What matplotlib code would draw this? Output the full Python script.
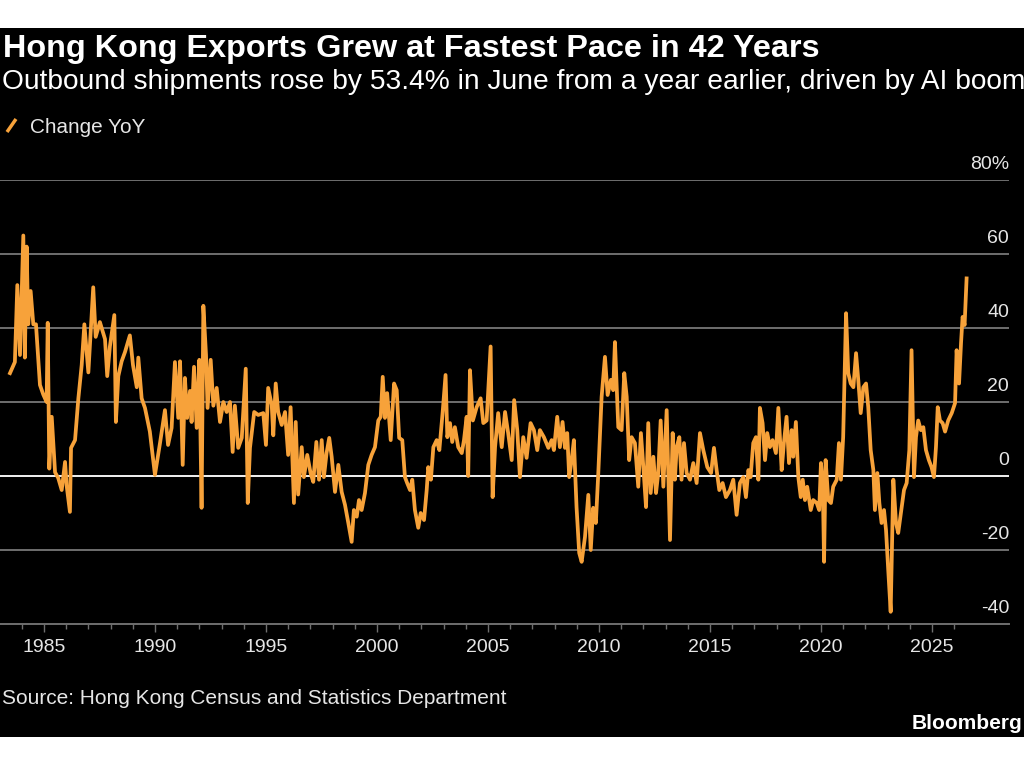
import matplotlib
matplotlib.use('Agg')
import matplotlib.pyplot as plt
import matplotlib.transforms as mtransforms
from matplotlib import font_manager
from matplotlib.lines import Line2D
from matplotlib.patches import Rectangle

# month positions as decimal years (% change YoY)
dates = [
    1983.47, 1983.69, 1983.80, 1983.92, 1984.07, 1984.14, 1984.22, 1984.29, 1984.40, 1984.52,
    1984.64, 1984.82, 1984.97, 1985.12, 1985.17, 1985.24, 1985.35, 1985.42, 1985.50, 1985.64,
    1985.80, 1985.95, 1986.02, 1986.17, 1986.22, 1986.40, 1986.55, 1986.70, 1986.82, 1987.00,
    1987.07, 1987.22, 1987.33, 1987.52, 1987.75, 1987.85, 1987.97, 1988.17, 1988.24, 1988.35,
    1988.50, 1988.65, 1988.87, 1989.01, 1989.18, 1989.25, 1989.40, 1989.55, 1989.77, 1990.00,
    1990.23, 1990.45, 1990.59, 1990.75, 1990.90, 1991.05, 1991.13, 1991.25, 1991.35, 1991.45,
    1991.58, 1991.65, 1991.76, 1991.88, 1992.00, 1992.10, 1992.18, 1992.30, 1992.37, 1992.51,
    1992.63, 1992.78, 1992.93, 1993.08, 1993.23, 1993.38, 1993.50, 1993.60, 1993.75, 1993.91,
    1994.09, 1994.18, 1994.28, 1994.47, 1994.65, 1994.88, 1995.00, 1995.10, 1995.26, 1995.33,
    1995.44, 1995.55, 1995.71, 1995.86, 1996.00, 1996.11, 1996.26, 1996.34, 1996.45, 1996.61,
    1996.71, 1996.86, 1997.01, 1997.13, 1997.27, 1997.39, 1997.51, 1997.61, 1997.73, 1997.85,
    1997.96, 1998.11, 1998.26, 1998.41, 1998.56, 1998.71, 1998.86, 1998.96, 1999.09, 1999.19,
    1999.31, 1999.46, 1999.61, 1999.76, 1999.91, 2000.06, 2000.17, 2000.26, 2000.36, 2000.46,
    2000.62, 2000.77, 2000.89, 2001.00, 2001.14, 2001.26, 2001.36, 2001.49, 2001.59, 2001.71,
    2001.86, 2001.97, 2002.12, 2002.24, 2002.31, 2002.43, 2002.54, 2002.69, 2002.81, 2002.96,
    2003.09, 2003.17, 2003.29, 2003.39, 2003.51, 2003.66, 2003.82, 2003.92, 2004.04, 2004.11,
    2004.19, 2004.32, 2004.49, 2004.67, 2004.79, 2004.94, 2005.12, 2005.21, 2005.32, 2005.46,
    2005.62, 2005.77, 2005.91, 2006.07, 2006.18, 2006.32, 2006.44, 2006.59, 2006.74, 2006.92,
    2007.07, 2007.22, 2007.34, 2007.52, 2007.72, 2007.87, 2007.97, 2008.12, 2008.24, 2008.36,
    2008.47, 2008.57, 2008.66, 2008.77, 2008.87, 2008.99, 2009.11, 2009.22, 2009.37, 2009.52,
    2009.63, 2009.74, 2009.86, 2009.97, 2010.12, 2010.27, 2010.39, 2010.54, 2010.64, 2010.72,
    2010.87, 2011.02, 2011.14, 2011.25, 2011.36, 2011.47, 2011.62, 2011.77, 2011.89, 2012.00,
    2012.12, 2012.22, 2012.33, 2012.45, 2012.57, 2012.67, 2012.78, 2012.90, 2013.05, 2013.20,
    2013.32, 2013.42, 2013.50, 2013.62, 2013.72, 2013.83, 2013.95, 2014.10, 2014.25, 2014.40,
    2014.55, 2014.70, 2014.88, 2015.05, 2015.18, 2015.30, 2015.42, 2015.57, 2015.72, 2015.90,
    2016.05, 2016.20, 2016.35, 2016.50, 2016.62, 2016.73, 2016.83, 2016.95, 2017.07, 2017.18,
    2017.25, 2017.37, 2017.48, 2017.58, 2017.70, 2017.82, 2017.97, 2018.08, 2018.23, 2018.33,
    2018.45, 2018.56, 2018.68, 2018.75, 2018.87, 2018.98, 2019.09, 2019.18, 2019.28, 2019.38,
    2019.54, 2019.65, 2019.81, 2019.92, 2020.00, 2020.08, 2020.14, 2020.21, 2020.33, 2020.45,
    2020.55, 2020.71, 2020.81, 2020.90, 2021.00, 2021.13, 2021.23, 2021.34, 2021.46, 2021.58,
    2021.68, 2021.79, 2021.91, 2022.03, 2022.13, 2022.24, 2022.36, 2022.43, 2022.54, 2022.63,
    2022.73, 2022.84, 2022.93, 2023.03, 2023.14, 2023.26, 2023.38, 2023.48, 2023.60, 2023.74,
    2023.86, 2023.98, 2024.08, 2024.19, 2024.28, 2024.38, 2024.50, 2024.61, 2024.73, 2024.86,
    2024.98, 2025.09, 2025.18, 2025.26, 2025.36, 2025.48, 2025.59, 2025.73, 2025.89, 2026.04,
    2026.11, 2026.22, 2026.31, 2026.38, 2026.47, 2026.56,
]
yoy = [
    27.8, 30.8, 51.6, 32.7, 65.0, 32.0, 62.0, 41.0, 50.0, 41.0,
    41.0, 24.6, 22.0, 20.0, 41.4, 2.0, 16.0, 9.0, 1.0, -0.5,
    -3.8, 3.8, -2.5, -9.7, 7.6, 9.7, 21.0, 30.0, 41.0, 28.0,
    35.4, 51.0, 37.6, 41.6, 37.0, 27.0, 35.0, 43.5, 14.6, 27.0,
    31.0, 33.5, 38.0, 30.0, 24.0, 32.0, 21.0, 18.4, 12.0, 0.3,
    9.0, 17.8, 8.4, 13.0, 30.8, 15.7, 31.0, 3.0, 26.5, 15.7,
    23.0, 14.6, 29.5, 13.0, 31.4, -8.6, 46.0, 32.7, 18.4, 31.4,
    19.0, 23.8, 14.6, 20.0, 17.3, 20.0, 6.5, 19.0, 7.6, 10.3,
    29.0, -7.3, 7.6, 17.3, 16.5, 17.0, 8.4, 23.8, 19.2, 11.0,
    25.0, 17.3, 13.8, 17.3, 5.7, 18.6, -7.3, 14.6, -5.0, 7.8,
    -0.3, 5.7, 0.8, -1.6, 9.2, -1.0, 9.7, -0.3, 6.2, 10.3,
    5.2, -4.3, 3.0, -4.3, -7.8, -12.7, -17.8, -9.2, -11.0, -6.5,
    -9.2, -4.6, 3.0, 5.7, 7.8, 15.0, 16.0, 26.8, 15.7, 22.4,
    9.7, 25.0, 23.2, 10.3, 9.7, -0.3, -1.9, -3.8, -1.0, -9.2,
    -14.0, -10.0, -11.9, -3.8, 2.4, -1.0, 7.8, 9.7, 7.0, 17.3,
    27.3, 10.5, 14.3, 9.2, 13.2, 7.8, 6.2, 9.7, 16.0, 0.0,
    28.6, 15.0, 18.6, 21.0, 14.3, 15.0, 35.0, -5.7, 7.8, 17.0,
    7.8, 17.3, 11.6, 4.3, 20.5, 12.4, -0.3, 10.5, 4.9, 14.3,
    12.4, 7.0, 12.4, 10.5, 7.6, 9.7, 7.0, 16.0, 7.8, 14.6,
    7.6, 11.6, -0.3, 4.3, 9.7, -8.4, -20.8, -23.2, -16.5, -5.1,
    -20.0, -8.6, -12.7, 0.8, 21.4, 32.2, 21.9, 26.0, 23.2, 36.2,
    13.2, 12.4, 27.8, 21.4, 4.3, 10.5, 8.9, -2.9, 11.6, 2.4,
    -8.4, 14.3, -4.6, 5.2, -4.6, 0.8, 15.0, -2.9, 17.8, -17.3,
    11.6, -1.0, 7.8, 10.5, -1.0, 8.9, 0.8, -1.0, 3.5, -1.9,
    11.6, 7.0, 2.4, 0.8, 7.6, 1.6, -3.8, -1.9, -5.7, -3.8,
    -1.0, -10.5, -1.9, -0.3, -5.7, 1.6, -0.3, 8.9, 10.5, -1.0,
    18.4, 14.3, 4.3, 11.6, 7.8, 9.7, 6.2, 18.4, 1.6, 8.9,
    16.0, 3.5, 12.4, 5.2, 14.6, -0.3, -5.7, -1.0, -6.5, -2.9,
    -9.2, -6.5, -7.3, -9.2, 3.5, -1.9, -23.2, 4.3, -6.5, -7.3,
    -2.9, -1.0, 8.9, -1.0, 10.5, 44.0, 27.8, 25.0, 24.0, 33.2,
    26.0, 17.0, 24.0, 25.0, 18.6, 7.0, 1.6, -9.2, 0.8, -7.3,
    -12.7, -9.2, -14.6, -25.4, -36.7, -1.0, -12.7, -15.4, -10.0, -3.8,
    -1.9, 7.0, 34.0, -0.3, 10.5, 15.0, 12.4, 13.2, 7.0, 4.3,
    2.4, -0.3, 7.8, 18.6, 15.0, 14.3, 12.0, 15.0, 17.0, 19.7,
    34.0, 25.0, 36.0, 43.0, 40.8, 53.4,
]

y_ticks = [-40, -20, 0, 20, 40, 60, 80]
y_labels = ['-40', '-20', '0', '20', '40', '60', '80%']
x_major = list(range(1985, 2026, 5))
x_minor = list(range(1984, 2027))

title = 'Hong Kong Exports Grew at Fastest Pace in 42 Years'
subtitle = 'Outbound shipments rose by 53.4% in June from a year earlier, driven by AI boom'
legend_label = 'Change YoY'
source = 'Source: Hong Kong Census and Statistics Department'

ORANGE = '#f7a23a'
GRID = '#6e6e6e'
TXT = '#e6e6e6'

names = {f.name for f in font_manager.fontManager.ttflist}
base = 'Liberation Sans Narrow' if 'Liberation Sans Narrow' in names else 'Liberation Sans'
plt.rcParams['font.family'] = [base, 'DejaVu Sans']

W, H = 1024, 768
fig = plt.figure(figsize=(W / 100, H / 100), dpi=100, facecolor='white')
fig.add_artist(Rectangle((0, 1 - 737 / H), 1, (737 - 28) / H, transform=fig.transFigure,
                         facecolor='black', edgecolor='none', zorder=-10))


def fy(py):
    return 1 - py / H


def fit(t, width_px):
    r = fig.canvas.get_renderer()
    w = t.get_window_extent(r).width
    t.set_fontsize(t.get_fontsize() * width_px / w)


t1 = fig.text(3 / W, fy(57), title, color='white', fontweight='bold', fontsize=20, va='baseline')
t2 = fig.text(2 / W, fy(89), subtitle, color='white', fontsize=18, va='baseline')
t3 = fig.text(30 / W, fy(133), legend_label, color=TXT, fontsize=13, va='baseline')
t4 = fig.text(2 / W, fy(704), source, color=TXT, fontsize=13, va='baseline')
t5 = fig.text(1022 / W, fy(729), 'Bloomberg', color='white', fontweight='bold', fontsize=13,
              va='baseline', ha='right')
fit(t1, 815)
fit(t2, 1020)
fit(t3, 115)
fit(t4, 501)
fit(t5, 110)

fig.add_artist(Line2D([7 / W, 16 / W], [fy(132), fy(119)], transform=fig.transFigure,
                      color=ORANGE, lw=2.5, solid_capstyle='butt'))

ax = fig.add_axes([0, 1 - 624 / H, 1009 / W, (624 - 180) / H])
ax.set_facecolor('none')
ax.plot(dates, yoy, color=ORANGE, lw=2.7, zorder=3, solid_joinstyle='round')
ax.set_xlim(1983.02, 2028.47)
ax.set_ylim(-40, 80)

for v in y_ticks[1:]:
    ax.axhline(v, color='#f2f2f2' if v == 0 else GRID, lw=1.4, zorder=1)

for s in ['top', 'right', 'left']:
    ax.spines[s].set_visible(False)
ax.spines['bottom'].set_color(GRID)
ax.spines['bottom'].set_linewidth(1.4)

ax.set_yticks([])
lab_tr = mtransforms.offset_copy(
    mtransforms.blended_transform_factory(ax.transAxes, ax.transData), fig=fig, x=0, y=7,
    units='dots')
for v, lab in zip(y_ticks, y_labels):
    ax.text(1.0, v, lab, transform=lab_tr, ha='right', va='bottom', color=TXT, fontsize=14)

ax.set_xticks(x_major)
ax.set_xticklabels([str(y) for y in x_major])
ax.set_xticks(x_minor, minor=True)
ax.tick_params(axis='x', which='major', direction='out', length=6, width=1, color=GRID,
               labelcolor=TXT, labelsize=14, pad=5)
ax.tick_params(axis='x', which='minor', direction='out', length=3.5, width=1, color=GRID)

fig.savefig('out.png', dpi=100, facecolor=fig.get_facecolor())
